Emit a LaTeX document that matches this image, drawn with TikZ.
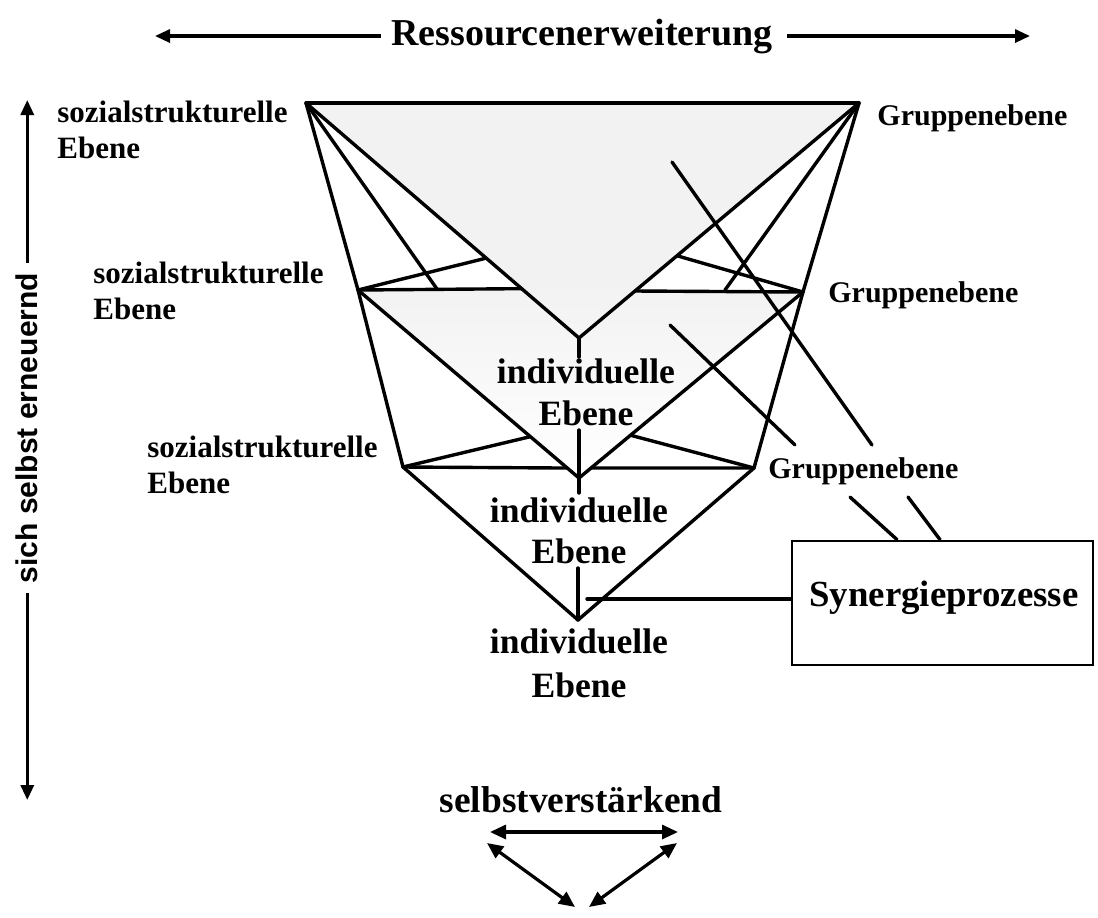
\documentclass[tikz,border=0pt]{standalone}
\usepackage{fontspec}
\setmainfont{Liberation Serif}
\newfontfamily\sansf{Liberation Sans}
\usetikzlibrary{arrows.meta,calc}
\begin{document}
\begin{tikzpicture}[x=0.5pt,y=-0.5pt,
  ln/.style={line width=1.7pt, line cap=round, line join=round},
  arr/.style={line width=1.6pt, -{Triangle[length=7.5pt,width=6.5pt]}},
  darr/.style={line width=1.6pt, {Triangle[length=8pt,width=7pt]}-{Triangle[length=8pt,width=7pt]}},
  soz/.style={font=\fontsize{15.5}{17}\selectfont\bfseries, inner sep=0pt, anchor=base west},
  grp/.style={font=\fontsize{15}{17}\selectfont\bfseries, inner sep=0pt, anchor=base west},
  ind/.style={font=\fontsize{17.8}{21}\selectfont\bfseries, inner sep=0pt, anchor=base},
  big/.style={font=\fontsize{19}{22}\selectfont\bfseries, inner sep=0pt, anchor=base},
  boxst/.style={draw, line width=1.4pt, inner sep=0pt, minimum width=150.5pt, minimum height=62pt},
]
\useasboundingbox (0,0) rectangle (1098,917);

% vertices
\coordinate (A) at (306,103);
\coordinate (B) at (859,103);
\coordinate (L2) at (358,290);
\coordinate (R2) at (803,292);
\coordinate (L3) at (403,467);
\coordinate (R3) at (754,468);
\coordinate (P1) at (579,338);
\coordinate (P2) at (579,478);
\coordinate (P3) at (578,620);
\coordinate (a1) at (437,289);
\coordinate (b1) at (725,290);
\coordinate (s2L) at ($(A)!0.66!(P1)$);
\coordinate (s2R) at ($(B)!0.65!(P1)$);
\coordinate (h2L) at ($(A)!0.79!(P1)$);
\coordinate (h2R) at ($(B)!0.80!(P1)$);
\coordinate (h3L) at ($(L2)!0.947!(P2)$);
\coordinate (h3R) at ($(R2)!0.946!(P2)$);
\coordinate (s3L) at ($(L2)!0.78!(P2)$);
\coordinate (s3R) at ($(R2)!0.77!(P2)$);

% shading
\fill[gray!10] (A) -- (B) -- (P1) -- cycle;
\shade[top color=gray!10, bottom color=white] (L2) -- (R2) -- (P2) -- cycle;

% structure
\draw[ln] (A) -- (B);
\draw[ln] (A) -- (L2) -- (L3) -- (P3) -- (R3) -- (R2) -- (B);
\draw[ln] (A) -- (a1);
\draw[ln] (B) -- (b1);
\draw[ln] (A) -- (P1) -- (B);
\draw[ln] (L2) -- (s2L);
\draw[ln] (R2) -- (s2R);
\draw[ln] (L2) -- (h2L);
\draw[ln] (R2) -- (h2R);
\draw[ln] (L2) -- (P2) -- (R2);
\draw[ln] (L3) -- (s3L);
\draw[ln] (R3) -- (s3R);
\draw[ln] (L3) -- (h3L);
\draw[ln] (R3) -- (h3R);

% labels
\node[big] (res) at (582,45) {Ressourcenerweiterung};
\coordinate (resL) at (155,0);
\coordinate (resR) at (1030,0);
\draw[arr, shorten <=5pt] (res.west) -- (res.west -| resL);
\draw[arr, shorten <=7pt] (res.east) -- (res.east -| resR);

\node[soz] (soz1a) at (57,122) {sozialstrukturelle};
\node[soz] (soz1b) at (57,158) {Ebene};
\node[soz] (soz2a) at (93,283) {sozialstrukturelle};
\node[soz] (soz2b) at (93,319) {Ebene};
\node[soz] (soz3a) at (147,457) {sozialstrukturelle};
\node[soz] (soz3b) at (147,493) {Ebene};

\node[grp] (grp1) at (877,125) {Gruppenebene};
\node[grp] (grp2) at (828,302) {Gruppenebene};
\node[grp] (grp3) at (768,478) {Gruppenebene};

\node[ind] (ind1a) at (586,383) {individuelle};
\node[ind] (ind1b) at (586,425) {Ebene};
\node[ind] (ind2a) at (579,522) {individuelle};
\node[ind] (ind2b) at (579,563) {Ebene};
\node[ind] (ind3a) at (579,653) {individuelle};
\node[ind] (ind3b) at (579,697) {Ebene};

% ticks under apexes
\coordinate (t1) at (579,357);
\coordinate (t2a) at (579,430);
\coordinate (t2b) at (579,493);
\coordinate (t3) at (578,568);
\draw[ln] (P1) -- (t1);
\draw[ln] (t2a) -- (t2b);
\draw[ln] (t3) -- (P3);

% long diagonals
\coordinate (d1a) at (672,162);
\coordinate (d1b) at (872,445);
\coordinate (d2a) at (670,325);
\coordinate (d2b) at (795,445);
\draw[ln] (d1a) -- (d1b);
\draw[ln] (d2a) -- (d2b);

% box
\node[boxst] (box) at (942.5,603) {};
\node[big, font=\fontsize{18.4}{22}\selectfont\bfseries] (syn) at (944,606) {Synergieprozesse};
\coordinate (g3a) at (850,497);
\coordinate (g3b) at (908,497);
\coordinate (bxa) at (897,0);
\coordinate (bxb) at (940,0);
\draw[ln] (g3a) -- (bxa |- box.north);
\draw[ln] (g3b) -- (bxb |- box.north);
\coordinate (hp) at (587,599);
\draw[ln] (hp) -- (hp -| box.west);

% left vertical
\node[font=\sansf\fontsize{15}{17}\selectfont\bfseries, inner sep=0pt, anchor=base, rotate=90] (sse) at (38,428) {sich selbst erneuernd};
\coordinate (vt) at (0,100);
\coordinate (vb) at (0,800);
\draw[arr, shorten <=5pt] (sse.east) -- (sse.east |- vt);
\draw[arr, shorten <=5pt] (sse.west) -- (sse.west |- vb);

% bottom
\node[big, font=\fontsize{18.7}{22}\selectfont\bfseries] (selb) at (581,812) {selbstverstärkend};
\coordinate (q1) at (490,832);
\coordinate (q2) at (678,832);
\coordinate (q3) at (487,843);
\coordinate (q4) at (575,907);
\coordinate (q5) at (677,843);
\coordinate (q6) at (589,907);
\draw[darr] (q1) -- (q2);
\draw[darr] (q3) -- (q4);
\draw[darr] (q5) -- (q6);
\end{tikzpicture}
\end{document}
